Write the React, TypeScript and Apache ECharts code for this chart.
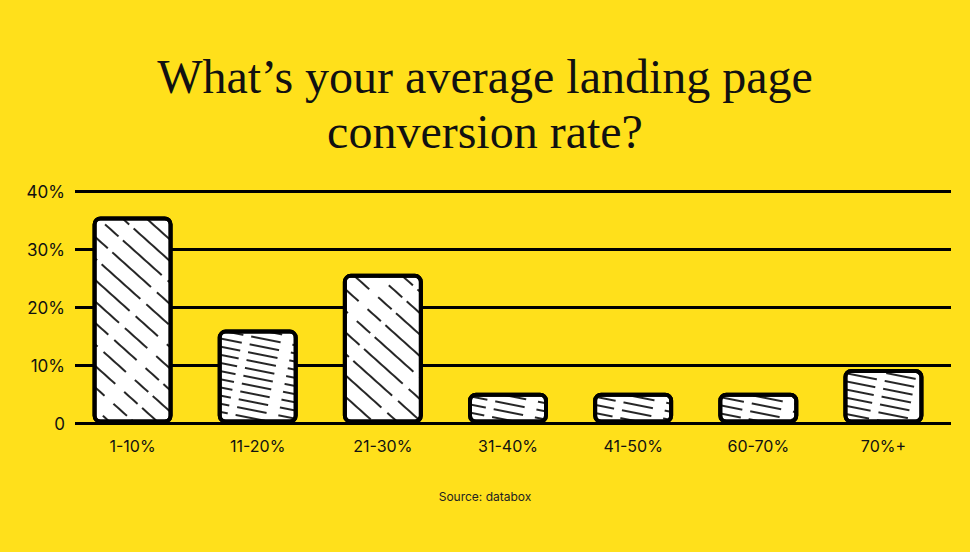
import React, { useEffect, useRef } from "react";
import * as echarts from "echarts";

const categories = ["1-10%", "11-20%", "21-30%", "31-40%", "41-50%", "60-70%", "70%+"];
const values = [35.7, 16.2, 25.8, 5.3, 5.3, 5.3, 9.4];
const yTicks = [0, 10, 20, 30, 40];
const titleLines = ["What\u2019s your average landing page", "conversion rate?"];
const sourceText = "Source: databox";

const BG = "#FFE01B";

export default function App() {
  const ref = useRef<HTMLDivElement>(null);
  useEffect(() => {
    document.body.style.margin = "0";
    const chart = echarts.init(ref.current!, null, { renderer: "svg" });
    const hatch = (rot: number, gap: number) => ({
      symbol: "rect",
      symbolSize: 1,
      color: "rgba(0,0,0,0.85)",
      backgroundColor: "#ffffff",
      dashArrayX: [[52, 8, 30, 12, 18, 6]],
      dashArrayY: [2, gap],
      rotation: rot,
    });
    const yMax = yTicks[yTicks.length - 1];
    const titleStyle = {
      fontFamily: "Liberation Serif",
      fontSize: 48,
      fontWeight: "normal",
      color: "#111",
      lineHeight: 48,
    };
    chart.setOption({
      animation: false,
      backgroundColor: BG,
      title: [
        { text: titleLines[0], left: "center", top: 52, padding: 0, textStyle: titleStyle },
        { text: titleLines[1], left: "center", top: 107, padding: 0, textStyle: titleStyle },
        {
          text: sourceText,
          left: "center",
          top: 485,
          textStyle: {
            fontFamily: "Inter",
            fontSize: 12,
            fontWeight: "normal",
            color: "#222",
          },
        },
      ],
      grid: [
        { left: 75, right: 19, top: 191.5, bottom: 552 - 423.5 },
        { left: 70, right: 24, top: 191.5, bottom: 552 - 423.5 },
      ],
      xAxis: [
        { type: "category", gridIndex: 0, data: categories, show: false },
        {
          type: "category",
          gridIndex: 1,
          data: categories,
          axisLine: { show: false },
          axisTick: { show: false },
          axisLabel: { fontFamily: "Inter", fontSize: 16, color: "#111", margin: 14 },
        },
      ],
      yAxis: [
        {
          type: "value",
          gridIndex: 0,
          min: 0,
          max: yMax,
          interval: 10,
          axisLine: { show: false },
          axisTick: { show: false },
          splitLine: { lineStyle: { color: "#000", width: 3 } },
          axisLabel: {
            fontFamily: "Inter",
            fontSize: 17,
            color: "#111",
            margin: 10,
            formatter: (v: number) => (v === 0 ? "0" : v + "%"),
          },
        },
        {
          type: "value",
          gridIndex: 1,
          min: 0,
          max: yMax,
          interval: 10,
          show: false,
          splitLine: { show: false },
        },
      ],
      series: [
        {
          type: "bar",
          xAxisIndex: 1,
          yAxisIndex: 1,
          barWidth: 80,
          z: 3,
          data: values.map((v) => ({
            value: v,
            itemStyle: {
              decal: v > 20 ? hatch(Math.PI / 4.3, 14) : hatch(Math.PI / 16, 6),
            },
          })),
          itemStyle: {
            color: "#ffffff",
            borderColor: "#000",
            borderWidth: 4,
            borderRadius: 6,
          },
        },
      ],
    });
    return () => chart.dispose();
  }, []);
  return <div ref={ref} style={{ width: 970, height: 552 }} />;
}
